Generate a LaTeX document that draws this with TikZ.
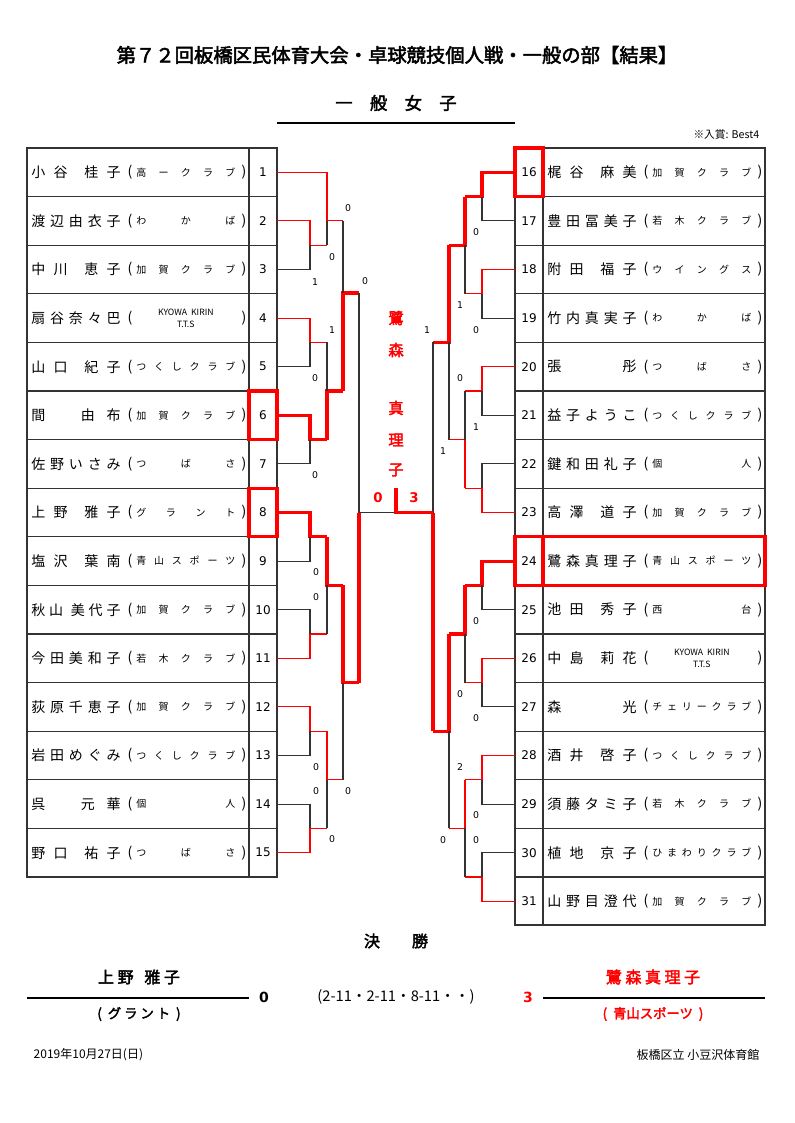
\documentclass[tikz,border=0pt]{standalone}
\usepackage{fontspec}
\setmainfont{Noto Sans CJK JP}[AutoFakeBold=2.5]
\newfontfamily\lat{DejaVu Sans}
\newcommand\hf{\hfill}
\newcommand\kyo{\hfil\shortstack{\fontsize{6.5}{8}\selectfont KYOWA\ \ KIRIN\\[1pt]\fontsize{6.5}{8}\selectfont T.T.S}\hfil}
\begin{document}
\begin{tikzpicture}[ x=0.75pt, y=-0.75pt
                   , lo/.style={draw=black!80, line width=0.8pt}
                   , wn/.style={draw=red, line width=0.8pt}
                   , bs/.style={draw=red, line width=2.4pt}
                   , nm/.style={inner sep=0pt, font=\fontsize{10.5}{12}\selectfont}
                   , cl/.style={inner sep=0pt, font=\fontsize{7.5}{9}\selectfont}
                   , num/.style={inner sep=0pt, font=\lat\fontsize{9}{10}\selectfont}
                   , sc/.style={inner sep=0pt, font=\lat\fontsize{7}{8}\selectfont}
                   , rd/.style={text=red, font=\bfseries\fontsize{11.5}{13}\selectfont}
                   ]
  \useasboundingbox (0,0) rectangle (794,1123);

  % --- Titles ----------------------------------------------------------------
  \node [font=\bfseries\fontsize{14.5}{16}\selectfont] (title) at (397,55)
        {第７２回板橋区民体育大会・卓球競技個人戦・一般の部【結果】};
  \node [font=\bfseries\fontsize{13}{15}\selectfont] (sub) at (396,103) {一　般　女　子};
  \draw [line width=0.8pt] (277,123) -- (515,123);
  \node [anchor=east, font=\fontsize{8}{9}\selectfont] (note) at (764,134) {※入賞: Best4};

  % --- Left table ------------------------------------------------------------
  \draw [lo] (27,148) rectangle (277,877) (249,148) -- (249,877);
  \foreach \k in {1,...,14} \draw [lo] (27,148+48.6*\k) -- (277,148+48.6*\k);
  \foreach \i/\nmt/\cl [evaluate=\i as \yy using 148+48.6*(\i-0.5)] in
     { 1/{小\hf{}谷\hf{}\hf{}桂\hf{}子}/{高\hf{}ー\hf{}ク\hf{}ラ\hf{}ブ}
     , 2/{渡\hf{}辺\hf{}由\hf{}衣\hf{}子}/{わ\hf{}\hf{}か\hf{}\hf{}ば}
     , 3/{中\hf{}川\hf{}\hf{}恵\hf{}子}/{加\hf{}賀\hf{}ク\hf{}ラ\hf{}ブ}
     , 4/{扇\hf{}谷\hf{}奈\hf{}々\hf{}巴}/{\kyo}
     , 5/{山\hf{}口\hf{}\hf{}紀\hf{}子}/{つ\hf{}く\hf{}し\hf{}ク\hf{}ラ\hf{}ブ}
     , 6/{間\hf{}\hf{}\hf{}由\hf{}布}/{加\hf{}賀\hf{}ク\hf{}ラ\hf{}ブ}
     , 7/{佐\hf{}野\hf{}い\hf{}さ\hf{}み}/{つ\hf{}\hf{}ば\hf{}\hf{}さ}
     , 8/{上\hf{}野\hf{}\hf{}雅\hf{}子}/{グ\hf{}ラ\hf{}ン\hf{}ト}
     , 9/{塩\hf{}沢\hf{}\hf{}葉\hf{}南}/{青\hf{}山\hf{}ス\hf{}ポ\hf{}ー\hf{}ツ}
     , 10/{秋\hf{}山\hf{}\hf{}美\hf{}代\hf{}子}/{加\hf{}賀\hf{}ク\hf{}ラ\hf{}ブ}
     , 11/{今\hf{}田\hf{}美\hf{}和\hf{}子}/{若\hf{}木\hf{}ク\hf{}ラ\hf{}ブ}
     , 12/{荻\hf{}原\hf{}千\hf{}恵\hf{}子}/{加\hf{}賀\hf{}ク\hf{}ラ\hf{}ブ}
     , 13/{岩\hf{}田\hf{}め\hf{}ぐ\hf{}み}/{つ\hf{}く\hf{}し\hf{}ク\hf{}ラ\hf{}ブ}
     , 14/{呉\hf{}\hf{}\hf{}元\hf{}華}/{個\hf{}\hf{}\hf{}\hf{}人}
     , 15/{野\hf{}口\hf{}\hf{}祐\hf{}子}/{つ\hf{}\hf{}ば\hf{}\hf{}さ}
     }
  { \node [nm, anchor=west] (nL\i) at (31,\yy) {\makebox[67pt][s]{\nmt}};
    \node [nm] (oL\i) at (130,\yy) {(};
    \node [cl, anchor=west] (cL\i) at (136,\yy) {\makebox[76pt][s]{\cl}};
    \node [nm] (eL\i) at (244,\yy) {)};
    \node [num] (pL\i) at (263,\yy) {\i};
  }

  % --- Right table -----------------------------------------------------------
  \draw [lo] (515,148) rectangle (765,925) (543,148) -- (543,925);
  \foreach \k in {1,...,15} \draw [lo] (515,148+48.6*\k) -- (765,148+48.6*\k);
  \foreach \i/\nmt/\cl [evaluate=\i as \yy using 148+48.6*(\i-15.5)] in
     { 16/{梶\hf{}谷\hf{}\hf{}麻\hf{}美}/{加\hf{}賀\hf{}ク\hf{}ラ\hf{}ブ}
     , 17/{豊\hf{}田\hf{}冨\hf{}美\hf{}子}/{若\hf{}木\hf{}ク\hf{}ラ\hf{}ブ}
     , 18/{附\hf{}田\hf{}\hf{}福\hf{}子}/{ウ\hf{}イ\hf{}ン\hf{}グ\hf{}ス}
     , 19/{竹\hf{}内\hf{}真\hf{}実\hf{}子}/{わ\hf{}\hf{}か\hf{}\hf{}ば}
     , 20/{張\hf{}\hf{}\hf{}\hf{}彤}/{つ\hf{}\hf{}ば\hf{}\hf{}さ}
     , 21/{益\hf{}子\hf{}よ\hf{}う\hf{}こ}/{つ\hf{}く\hf{}し\hf{}ク\hf{}ラ\hf{}ブ}
     , 22/{鍵\hf{}和\hf{}田\hf{}礼\hf{}子}/{個\hf{}\hf{}\hf{}\hf{}人}
     , 23/{高\hf{}澤\hf{}\hf{}道\hf{}子}/{加\hf{}賀\hf{}ク\hf{}ラ\hf{}ブ}
     , 24/{鷺\hf{}森\hf{}真\hf{}理\hf{}子}/{青\hf{}山\hf{}ス\hf{}ポ\hf{}ー\hf{}ツ}
     , 25/{池\hf{}田\hf{}\hf{}秀\hf{}子}/{西\hf{}\hf{}\hf{}\hf{}\hf{}台}
     , 26/{中\hf{}島\hf{}\hf{}莉\hf{}花}/{\kyo}
     , 27/{森\hf{}\hf{}\hf{}\hf{}光}/{チ\hf{}ェ\hf{}リ\hf{}ー\hf{}ク\hf{}ラ\hf{}ブ}
     , 28/{酒\hf{}井\hf{}\hf{}啓\hf{}子}/{つ\hf{}く\hf{}し\hf{}ク\hf{}ラ\hf{}ブ}
     , 29/{須\hf{}藤\hf{}タ\hf{}ミ\hf{}子}/{若\hf{}木\hf{}ク\hf{}ラ\hf{}ブ}
     , 30/{植\hf{}地\hf{}\hf{}京\hf{}子}/{ひ\hf{}ま\hf{}わ\hf{}り\hf{}ク\hf{}ラ\hf{}ブ}
     , 31/{山\hf{}野\hf{}目\hf{}澄\hf{}代}/{加\hf{}賀\hf{}ク\hf{}ラ\hf{}ブ}
     }
  { \node [nm, anchor=west] (nR\i) at (547,\yy) {\makebox[67pt][s]{\nmt}};
    \node [nm] (oR\i) at (646,\yy) {(};
    \node [cl, anchor=west] (cR\i) at (652,\yy) {\makebox[76pt][s]{\cl}};
    \node [nm] (eR\i) at (760,\yy) {)};
    \node [num] (pR\i) at (529,\yy) {\i};
  }

  % --- Best4 marks -----------------------------------------------------------
  \draw [bs] (249,391) rectangle (277,439.6);
  \draw [bs] (249,488.2) rectangle (277,536.8);
  \draw [bs] (515,148) rectangle (543,196.6);
  \draw [bs] (515,536.8) rectangle (543,585.4) (543,536.8) rectangle (765,585.4);

  % --- Left bracket ----------------------------------------------------------
  \draw [wn] (277,220.9) -| (310,245.2) -- (327,245.2);  \draw [lo] (277,269.5) -| (310,245.2);
  \draw [wn] (277,172.3) -| (327,220.9) -- (343,220.9);  \draw [lo] (327,245.2) -- (327,220.9);
  \draw [wn] (277,318.1) -| (310,342.4) -- (327,342.4);  \draw [lo] (277,366.7) -| (310,342.4);
  \draw [bs] (277,415.3) -| (310,439.6) -- (327,439.6);  \draw [lo] (277,463.9) -| (310,439.6);
  \draw [bs] (327,439.6) -- (327,391) -- (343,391);      \draw [lo] (327,342.4) -- (327,391);
  \draw [bs] (343,391) -- (343,293) -- (359,293);        \draw [lo] (343,220.9) -- (343,293);
  \draw [bs] (277,512.5) -| (310,536.8) -- (327,536.8);  \draw [lo] (277,561.1) -| (310,536.8);
  \draw [wn] (277,658.3) -| (310,634) -- (327,634);      \draw [lo] (277,609.7) -| (310,634);
  \draw [bs] (327,536.8) -- (327,585.4) -- (343,585.4);  \draw [lo] (327,634) -- (327,585.4);
  \draw [wn] (277,706.9) -| (310,731.2) -- (327,731.2);  \draw [lo] (277,755.5) -| (310,731.2);
  \draw [wn] (277,852.7) -| (310,828.4) -- (327,828.4);  \draw [lo] (277,804.1) -| (310,828.4);
  \draw [wn] (327,731.2) -- (327,779.8) -- (343,779.8);  \draw [lo] (327,828.4) -- (327,779.8);
  \draw [bs] (343,585.4) -- (343,682.6) -- (359,682.6);  \draw [lo] (343,779.8) -- (343,682.6);
  \draw [bs] (359,682.6) -- (359,512.5);
  \draw [lo] (359,293) -- (359,512.5) -- (396,512.5);

  % --- Right bracket ---------------------------------------------------------
  \draw [bs] (515,172.3) -| (482,196.6) -- (465,196.6);  \draw [lo] (515,220.9) -| (482,196.6);
  \draw [wn] (515,269.5) -| (482,293.8) -- (465,293.8);  \draw [lo] (515,318.1) -| (482,293.8);
  \draw [bs] (465,196.6) -- (465,245.2) -- (449,245.2);  \draw [lo] (465,293.8) -- (465,245.2);
  \draw [wn] (515,366.7) -| (482,391) -- (465,391);      \draw [lo] (515,415.3) -| (482,391);
  \draw [wn] (515,512.5) -| (482,488.2) -- (465,488.2);  \draw [lo] (515,463.9) -| (482,488.2);
  \draw [wn] (465,488.2) -- (465,439.6) -- (449,439.6);  \draw [lo] (465,391) -- (465,439.6);
  \draw [bs] (449,245.2) -- (449,342.4) -- (433,342.4);  \draw [lo] (449,439.6) -- (449,342.4);
  \draw [bs] (515,561.1) -| (482,585.4) -- (465,585.4);  \draw [lo] (515,609.7) -| (482,585.4);
  \draw [wn] (515,658.3) -| (482,682.6) -- (465,682.6);  \draw [lo] (515,706.9) -| (482,682.6);
  \draw [bs] (465,585.4) -- (465,634) -- (449,634);      \draw [lo] (465,682.6) -- (465,634);
  \draw [wn] (515,755.5) -| (482,779.8) -- (465,779.8);  \draw [lo] (515,804.1) -| (482,779.8);
  \draw [wn] (515,901.3) -| (482,877) -- (465,877);      \draw [lo] (515,852.7) -| (482,877);
  \draw [wn] (465,779.8) -- (465,828.4) -- (449,828.4);  \draw [lo] (465,877) -- (465,828.4);
  \draw [bs] (449,634) -- (449,731.2) -- (433,731.2);    \draw [lo] (449,828.4) -- (449,731.2);
  \draw [bs] (433,731.2) -- (433,512.5);
  \draw [lo] (433,342.4) -- (433,512.5);
  \draw [bs] (396,488) -- (396,512.5) -- (433,512.5);

  % --- Scores ----------------------------------------------------------------
  \foreach \x/\y/\s in { 348/208/0, 332/257/0, 315/282/1, 365/281/0, 332/330/1, 315/378/0
                       , 315/475/0, 316/572/0, 316/597/0, 316/767/0, 316/791/0, 348/791/0
                       , 332/839/0, 476/232/0, 460/305/1, 476/330/0, 427/330/1, 460/378/0
                       , 476/427/1, 443/451/1, 476/621/0, 460/694/0, 476/718/0, 460/767/2
                       , 476/815/0, 476/840/0, 443/840/0 }
    \node [sc] at (\x,\y) {\s};

  % --- Champion --------------------------------------------------------------
  \foreach \c/\y in {鷺/318, 森/350, 真/408, 理/440, 子/470}
    \node [rd] at (396,\y) {\c};
  \node [rd, font=\lat\bfseries\fontsize{10}{12}\selectfont] (fl) at (378,498) {0};
  \node [rd, font=\lat\bfseries\fontsize{10}{12}\selectfont] (fr) at (414,498) {3};

  % --- Final -----------------------------------------------------------------
  \node [font=\bfseries\fontsize{12}{14}\selectfont] (kesho) at (396,941) {決　　勝};
  \node [font=\bfseries\fontsize{12}{14}\selectfont] (wA) at (139,977) {上\ 野\ \ \ 雅\ 子};
  \node [font=\bfseries\fontsize{10}{12}\selectfont] (wAc) at (139,1014) {(\ \ グ\ ラ\ ン\ ト\ \ )};
  \node [font=\bfseries\fontsize{12}{14}\selectfont, text=red] (wB) at (653,977) {鷺\ 森\ 真\ 理\ 子};
  \node [font=\bfseries\fontsize{10}{12}\selectfont, text=red] (wBc) at (653,1014) {(\ \ 青山スポーツ\ \ )};
  \draw [line width=0.8pt] (27,998) -- (249,998) (543,998) -- (765,998);
  \node [font=\lat\bfseries\fontsize{10.5}{12}\selectfont] (sA) at (264,997) {0};
  \node [font=\fontsize{11}{13}\selectfont] (sM) at (396,997) {(2-11・2-11・8-11・・)};
  \node [font=\lat\bfseries\fontsize{10.5}{12}\selectfont, text=red] (sB) at (528,997) {3};

  % --- Footer ----------------------------------------------------------------
  \node [anchor=west, font=\fontsize{9}{11}\selectfont] (date) at (29,1055) {2019年10月27日(日)};
  \node [anchor=east, font=\fontsize{9}{11}\selectfont] (place) at (764,1055) {板橋区立 小豆沢体育館};
\end{tikzpicture}
\end{document}
